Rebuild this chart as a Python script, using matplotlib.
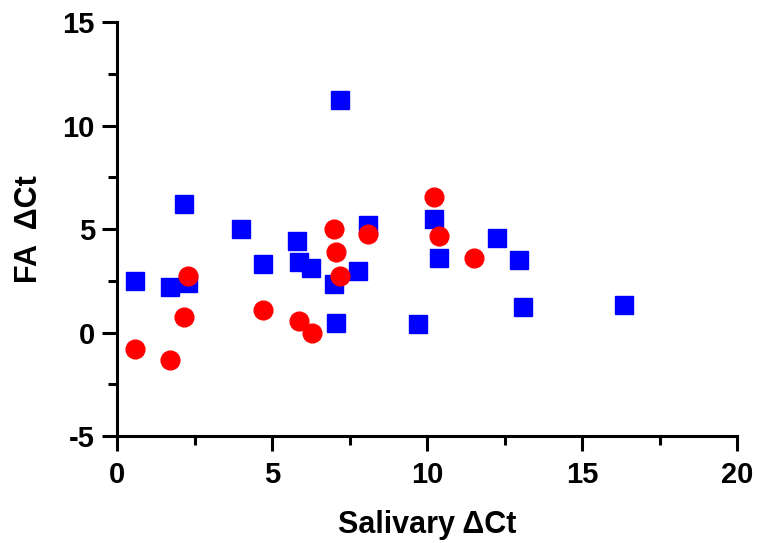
import matplotlib
matplotlib.use('Agg')
import matplotlib.pyplot as plt
from matplotlib.ticker import MultipleLocator

# blue squares
blue_x = [0.58, 1.71, 2.16, 2.29, 4.0, 4.71, 5.81, 5.87, 6.26, 7.0, 7.06, 7.19,
          7.77, 8.1, 9.71, 10.23, 10.39, 12.26, 12.97, 13.1, 16.35]
blue_y = [2.5, 2.2, 6.2, 2.4, 5.0, 3.3, 4.4, 3.4, 3.1, 2.35, 0.45, 11.25,
          2.95, 5.2, 0.4, 5.5, 3.6, 4.55, 3.5, 1.25, 1.35]

# red circles
red_x = [0.58, 1.71, 2.16, 2.29, 4.71, 5.87, 6.29, 7.0, 7.06, 7.19, 8.1, 10.23, 10.39, 11.52]
red_y = [-0.82, -1.35, 0.77, 2.72, 1.1, 0.58, 0.0, 5.0, 3.9, 2.75, 4.75, 6.55, 4.65, 3.6]

plt.rcParams['font.family'] = ['Liberation Sans', 'DejaVu Sans']
plt.rcParams['font.weight'] = 'bold'
plt.rcParams['axes.unicode_minus'] = False

fig = plt.figure(figsize=(7.57, 5.43), dpi=100)
ax = fig.add_axes([0.1546, 0.197, 0.819, 0.7625])

ax.plot(blue_x, blue_y, 's', color='#0000ff', markersize=13.5, linestyle='none', clip_on=False)
ax.plot(red_x, red_y, 'o', color='#ff0000', markersize=13.5, linestyle='none', clip_on=False)

ax.set_xlim(0, 20)
ax.set_ylim(-5, 15)
ax.xaxis.set_major_locator(MultipleLocator(5))
ax.xaxis.set_minor_locator(MultipleLocator(2.5))
ax.yaxis.set_major_locator(MultipleLocator(5))
ax.yaxis.set_minor_locator(MultipleLocator(2.5))

for s in ['top', 'right']:
    ax.spines[s].set_visible(False)
for s in ['left', 'bottom']:
    ax.spines[s].set_linewidth(2.2)

ax.tick_params(which='major', length=11, width=2.2, labelsize=21)
ax.tick_params(which='minor', length=6.5, width=2.2)
ax.tick_params(axis='x', which='major', pad=7)
ax.tick_params(axis='y', which='major', pad=5)
for lab in ax.get_xticklabels() + ax.get_yticklabels():
    lab.set_fontweight('bold')

ax.set_xlabel('Salivary \u0394Ct', fontsize=22, fontweight='bold', labelpad=15)
ax.set_ylabel('FA  \u0394Ct', fontsize=22, fontweight='bold', labelpad=13)

fig.savefig('out.png', dpi=100)
